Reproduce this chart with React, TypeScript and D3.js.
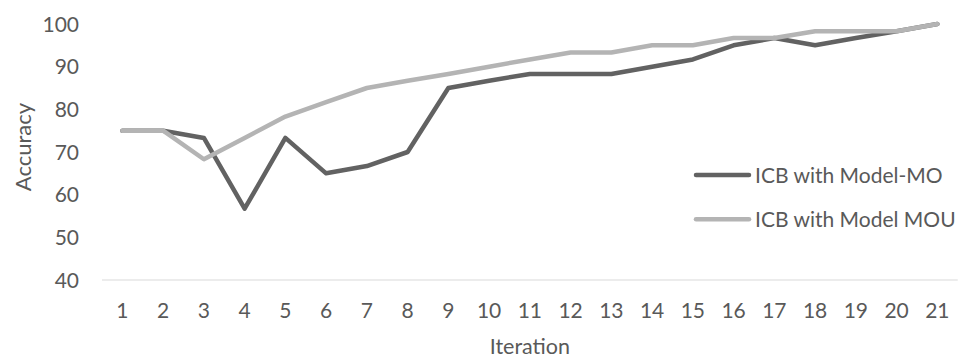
import React from "react";
import * as d3 from "d3";

// Iteration numbers along the x axis
const iterations: number[] = d3.range(1, 22);

// Accuracy per iteration (%)
const modelMO: number[] = [
  75, 75, 73.3, 56.7, 73.3, 65, 66.7, 70, 85, 86.7, 88.3, 88.3, 88.3, 90, 91.7,
  95, 96.7, 95, 96.7, 98.3, 100,
];
const modelMOU: number[] = [
  75, 75, 68.3, 73.3, 78.3, 81.7, 85, 86.7, 88.3, 90, 91.7, 93.3, 93.3, 95, 95,
  96.7, 96.7, 98.3, 98.3, 98.3, 100,
];

const yTicks: number[] = [40, 50, 60, 70, 80, 90, 100];

const seriesNames: string[] = ["ICB with Model-MO", "ICB with Model MOU"];
const seriesColors: string[] = ["#626262", "#b4b4b4"];

const W = 961;
const H = 358;
const FONT = "Lato, 'Open Sans', sans-serif";
const TEXT = "#595959";

export default function App() {
  const x = d3
    .scaleBand<number>()
    .domain(iterations)
    .range([102, 957.75])
    .padding(0);
  const y = d3.scaleLinear().domain([40, 100]).range([280, 24]);
  const cx = (i: number) => (x(i) as number) + x.bandwidth() / 2;

  const line = d3
    .line<number>()
    .x((_, i) => cx(iterations[i]))
    .y((v) => y(v));

  const series = [modelMO, modelMOU];

  return (
    <svg
      width={W}
      height={H}
      style={{ position: "absolute", left: 0, top: 0, background: "#fff" }}
      fontFamily={FONT}
    >
      {/* baseline axis */}
      <line
        x1={x.range()[0]}
        x2={x.range()[1]}
        y1={y(40)}
        y2={y(40)}
        stroke="#d9d9d9"
        strokeWidth={1.2}
      />

      {/* y tick labels */}
      {yTicks.map((t) => (
        <text
          key={t}
          x={79}
          y={y(t)}
          dy="0.36em"
          textAnchor="end"
          fontSize={21}
          fill={TEXT}
        >
          {t}
        </text>
      ))}

      {/* x tick labels */}
      {iterations.map((it) => (
        <text
          key={it}
          x={cx(it)}
          y={318}
          textAnchor="middle"
          fontSize={21}
          fill={TEXT}
        >
          {it}
        </text>
      ))}

      {/* axis titles */}
      <text
        transform={`translate(31, 147) rotate(-90)`}
        textAnchor="middle"
        fontSize={22}
        fill={TEXT}
      >
        Accuracy
      </text>
      <text
        x={(x.range()[0] + x.range()[1]) / 2}
        y={354}
        textAnchor="middle"
        fontSize={21.5}
        fill={TEXT}
      >
        Iteration
      </text>

      {/* data lines */}
      {series.map((s, k) => (
        <path
          key={k}
          d={line(s) ?? ""}
          fill="none"
          stroke={seriesColors[k]}
          strokeWidth={4.5}
          strokeLinejoin="round"
          strokeLinecap="round"
        />
      ))}

      {/* legend */}
      {seriesNames.map((name, k) => {
        const ly = 175 + k * 44.3;
        return (
          <g key={name}>
            <line
              x1={696}
              x2={749}
              y1={ly}
              y2={ly}
              stroke={seriesColors[k]}
              strokeWidth={4.5}
              strokeLinecap="round"
            />
            <text
              x={755}
              y={ly}
              dy="0.36em"
              fontSize={21}
              fill={TEXT}
            >
              {name}
            </text>
          </g>
        );
      })}
    </svg>
  );
}
